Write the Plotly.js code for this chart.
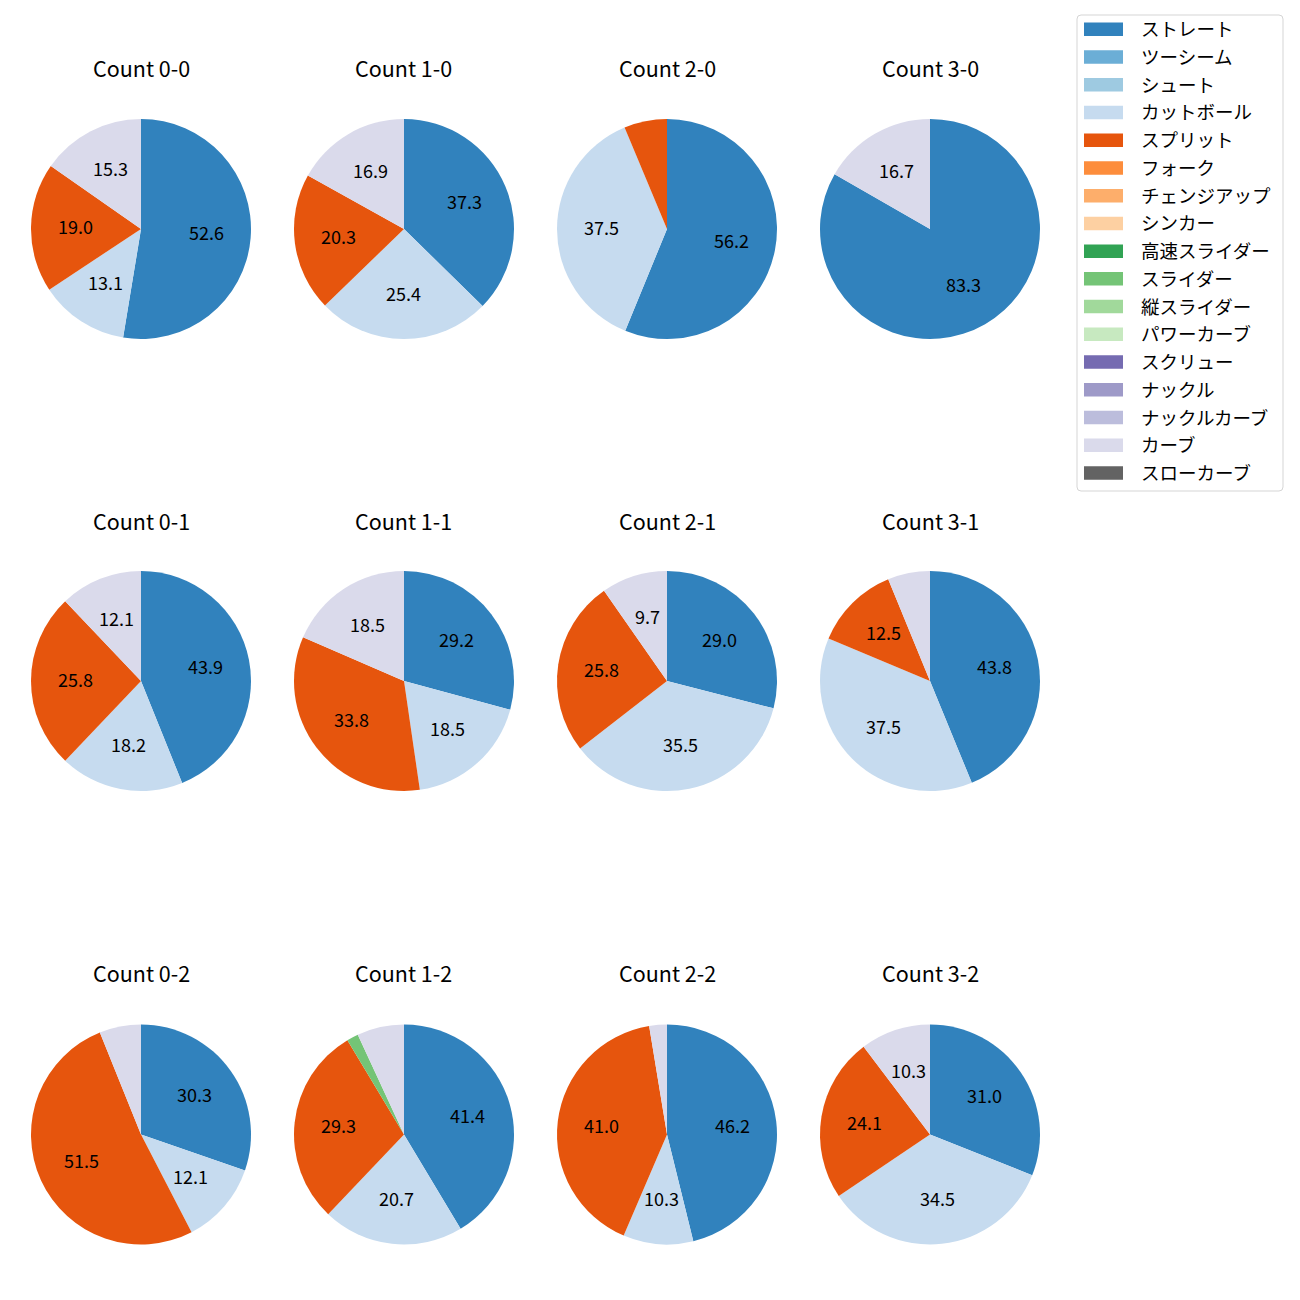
<!DOCTYPE html>
<html><head><meta charset="utf-8">
<script src="https://cdn.plot.ly/plotly-3.0.1.min.js"></script>
<style>body{margin:0;background:#fff}</style></head>
<body><div id="chart" style="width:1300px;height:1300px"></div>
<script>
// ---- data ----
const PITCHES = ['ストレート','ツーシーム','シュート','カットボール','スプリット','フォーク','チェンジアップ','シンカー','高速スライダー','スライダー','縦スライダー','パワーカーブ','スクリュー','ナックル','ナックルカーブ','カーブ','スローカーブ'];
const COLORS = ['#3182bd','#6baed6','#9ecae1','#c6dbef','#e6550d','#fd8d3c','#fdae6b','#fdd0a2','#31a354','#74c476','#a1d99b','#c7e9c0','#756bb1','#9e9ac8','#bcbddc','#dadaeb','#636363'];
const COUNTS = ['0-0','1-0','2-0','3-0','0-1','1-1','2-1','3-1','0-2','1-2','2-2','3-2'];
//            Str  2S  Sht  Cut  Spl  Frk  Chg  Snk  HSl  Sl  VSl  PCv  Scr  Knk  KCv  Crv  SCv
const v00 = [52.6, 0, 0, 13.1, 19.0, 0, 0, 0, 0, 0,   0, 0, 0, 0, 0, 15.3, 0];
const v10 = [37.3, 0, 0, 25.4, 20.3, 0, 0, 0, 0, 0,   0, 0, 0, 0, 0, 16.9, 0];
const v20 = [56.2, 0, 0, 37.5,  6.3, 0, 0, 0, 0, 0,   0, 0, 0, 0, 0,  0,   0];
const v30 = [83.3, 0, 0,  0,    0,   0, 0, 0, 0, 0,   0, 0, 0, 0, 0, 16.7, 0];
const v01 = [43.9, 0, 0, 18.2, 25.8, 0, 0, 0, 0, 0,   0, 0, 0, 0, 0, 12.1, 0];
const v11 = [29.2, 0, 0, 18.5, 33.8, 0, 0, 0, 0, 0,   0, 0, 0, 0, 0, 18.5, 0];
const v21 = [29.0, 0, 0, 35.5, 25.8, 0, 0, 0, 0, 0,   0, 0, 0, 0, 0,  9.7, 0];
const v31 = [43.8, 0, 0, 37.5, 12.5, 0, 0, 0, 0, 0,   0, 0, 0, 0, 0,  6.2, 0];
const v02 = [30.3, 0, 0, 12.1, 51.5, 0, 0, 0, 0, 0,   0, 0, 0, 0, 0,  6.1, 0];
const v12 = [41.4, 0, 0, 20.7, 29.3, 0, 0, 0, 0, 1.7, 0, 0, 0, 0, 0,  6.9, 0];
const v22 = [46.2, 0, 0, 10.3, 41.0, 0, 0, 0, 0, 0,   0, 0, 0, 0, 0,  2.6, 0];
const v32 = [31.0, 0, 0, 34.5, 24.1, 0, 0, 0, 0, 0,   0, 0, 0, 0, 0, 10.3, 0];
const VALUES = [v00,v10,v20,v30,v01,v11,v21,v31,v02,v12,v22,v32];

// ---- layout constants ----
const W = 1300, H = 1300;
const COL_X = [141, 404, 667, 930];
const ROW_Y = [229, 681, 1134.5];
const TITLE_Y = [69, 521, 973];
const R = 110;
const PCT_DIST = 0.6;
const MIN_LABEL = 8;
const FONT = '"Noto Sans CJK JP", "Noto Sans", sans-serif';

const traces = [];
const annotations = [];
const shapes = [];

COUNTS.forEach((cnt, i) => {
  const col = i % 4, row = Math.floor(i / 4);
  const cx = COL_X[col], cy = ROW_Y[row];
  const vals = VALUES[i];
  const labels = [], values = [], colors = [];
  vals.forEach((v, k) => { if (v > 0) { labels.push(PITCHES[k]); values.push(v); colors.push(COLORS[k]); } });
  traces.push({
    type: 'pie', labels: labels, values: values,
    marker: {colors: colors, line: {width: 0}},
    sort: false, direction: 'clockwise', rotation: 0,
    textinfo: 'none', hoverinfo: 'skip', showlegend: false,
    domain: {x: [(cx - R) / W, (cx + R) / W], y: [1 - (cy + R) / H, 1 - (cy - R) / H]}
  });
  const total = values.reduce((a, b) => a + b, 0);
  let cum = 0;
  values.forEach(v => {
    const pct = v / total * 100;
    const mid = (90 - 360 * (cum + v / 2) / total) * Math.PI / 180;
    cum += v;
    if (pct >= MIN_LABEL) {
      annotations.push({
        xref: 'paper', yref: 'paper',
        x: (cx + PCT_DIST * R * Math.cos(mid)) / W,
        y: 1 - (cy - PCT_DIST * R * Math.sin(mid)) / H,
        text: pct.toFixed(1), showarrow: false, yshift: 2,
        xanchor: 'center', yanchor: 'middle',
        font: {family: FONT, size: 18, color: '#000'}
      });
    }
  });
  annotations.push({
    xref: 'paper', yref: 'paper', x: cx / W, y: 1 - TITLE_Y[row] / H,
    text: 'Count ' + cnt, showarrow: false, xanchor: 'center', yanchor: 'middle', yshift: 1,
    font: {family: FONT, size: 21.5, color: '#000'}
  });
});

// ---- legend (drawn from PITCHES / COLORS) ----
const LG = {x0: 1077, y0: 15, x1: 1283, y1: 491, r: 4, first: 29.3, step: 27.73, px0: 1084, px1: 1123, ph: 13.5, tx: 1138.5};
const px = x => x / W, py = y => 1 - y / H;
(function () {
  const {x0, y0, x1, y1, r} = LG;
  const p = `M${px(x0 + r)},${py(y0)} L${px(x1 - r)},${py(y0)} Q${px(x1)},${py(y0)} ${px(x1)},${py(y0 + r)} L${px(x1)},${py(y1 - r)} Q${px(x1)},${py(y1)} ${px(x1 - r)},${py(y1)} L${px(x0 + r)},${py(y1)} Q${px(x0)},${py(y1)} ${px(x0)},${py(y1 - r)} L${px(x0)},${py(y0 + r)} Q${px(x0)},${py(y0)} ${px(x0 + r)},${py(y0)} Z`;
  shapes.push({type: 'path', xref: 'paper', yref: 'paper', path: p, fillcolor: 'rgba(255,255,255,0.8)', line: {color: '#d5d5d5', width: 1}});
})();
PITCHES.forEach((name, k) => {
  const yc = LG.first + k * LG.step;
  shapes.push({type: 'rect', xref: 'paper', yref: 'paper', x0: px(LG.px0), x1: px(LG.px1), y0: py(yc + LG.ph / 2), y1: py(yc - LG.ph / 2), fillcolor: COLORS[k], line: {width: 0}});
  annotations.push({xref: 'paper', yref: 'paper', x: px(LG.tx), y: py(yc), text: name, showarrow: false, xanchor: 'left', yanchor: 'middle', yshift: 1, font: {family: FONT, size: 18.5, color: '#000'}});
});

Plotly.newPlot('chart', traces, {
  width: W, height: H, margin: {l: 0, r: 0, t: 0, b: 0},
  paper_bgcolor: '#fff', plot_bgcolor: '#fff', showlegend: false,
  font: {family: FONT},
  annotations: annotations, shapes: shapes
}, {staticPlot: true});
</script></body></html>
